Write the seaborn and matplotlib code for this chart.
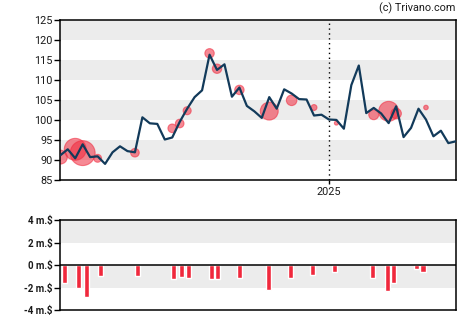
import matplotlib
matplotlib.use("Agg")
import matplotlib.pyplot as plt
import seaborn as sns
import pandas as pd
import numpy as np

# ---- data ----
price = [91.25, 92.75, 90.5, 94.0, 90.8, 91.0, 89.1, 92.0, 93.5, 92.3, 92.0, 100.75,
         99.25, 99.1, 95.2, 95.7, 99.6, 102.9, 105.8, 107.5, 116.4, 112.6, 114.0, 105.9,
         108.2, 103.6, 102.25, 100.6, 105.8, 102.9, 107.75, 106.7, 105.3, 105.2, 101.2, 101.4,
         100.2, 100.1, 97.9, 108.8, 113.7, 101.8, 103.1, 101.7, 99.3, 103.5, 95.8, 98.1,
         102.9, 100.2, 96.0, 97.4, 94.3, 94.75]
week = list(range(len(price)))

bubble_week = [0, 2, 3, 5, 10, 15, 16, 17, 20, 21, 24, 28, 31, 34, 37, 42, 44, 45, 49]
bubble_price = [90.8, 92.75, 91.8, 90.5, 91.9, 98.0, 99.2, 102.4, 116.75, 112.9, 107.6,
                102.3, 105.0, 103.2, 99.3, 101.4, 102.25, 101.7, 103.2]
bubble_value = [0.84, 2.07, 2.68, 0.27, 0.32, 0.32, 0.32, 0.28, 0.38, 0.38, 0.38,
                1.39, 0.48, 0.15, 0.07, 0.43, 1.71, 0.48, 0.09]

bar_week = [0.56, 2.44, 3.5, 5.37, 10.3, 15.2, 16.3, 17.2, 20.2, 21.1, 24.05, 27.9,
            30.9, 33.85, 36.8, 41.8, 43.8, 44.7, 47.7, 48.6]
bar_value = [-1.55, -1.99, -2.79, -0.92, -0.92, -1.19, -1.01, -1.10, -1.19, -1.19, -1.10,
             -2.16, -1.10, -0.83, -0.56, -1.10, -2.25, -1.55, -0.30, -0.56]

year_tick_week = 36
year_tick_label = "2025"
price_ticks = [85, 90, 95, 100, 105, 110, 115, 120, 125]
flow_ticks = [-4, -2, 0, 2, 4]
flow_tick_labels = ["-4 m.$", "-2 m.$", "0 m.$", "2 m.$", "4 m.$"]

# ---- style ----
sns.set_theme(style="white")
plt.rcParams["font.family"] = ["Roboto", "DejaVu Sans"]

LINE = "#123a5a"
RED = "#f0283c"
BAND = "#ececec"
TXT = "#1a1a1a"

fig = plt.figure(figsize=(4.7, 3.25), dpi=100)
ax = fig.add_axes([0.1283, 0.4452, 0.8415, 0.4923])
ax2 = fig.add_axes([0.1283, 0.0452, 0.8415, 0.2770])

# top chart bands
for lo in [90, 100, 110, 120]:
    ax.axhspan(lo, lo + 5, color=BAND, lw=0, zorder=0)
ax.axvline(year_tick_week, color="black", ls=(0, (1, 2.5)), lw=1, zorder=1)

df = pd.DataFrame({"week": week, "price": price})
sns.lineplot(data=df, x="week", y="price", ax=ax, color=LINE, lw=1.6, zorder=3)

bdf = pd.DataFrame({"week": bubble_week, "price": bubble_price, "value": bubble_value})
ax.scatter(bdf["week"], bdf["price"], s=np.array(bdf["value"]) * 120,
           color=RED, alpha=0.55, edgecolor=RED, linewidth=0.8, zorder=2)

ax.set_xlim(0, len(price) - 1)
ax.set_ylim(85, 125)
ax.set_yticks(price_ticks)
ax.set_yticklabels([str(t) for t in price_ticks])
ax.set_xticks([year_tick_week])
ax.set_xticklabels([year_tick_label])
ax.set_xlabel("")
ax.set_ylabel("")
for s in ax.spines.values():
    s.set_color("black")
    s.set_linewidth(1.1)
    s.set_visible(True)
ax.tick_params(axis="y", length=4, width=1, color="black", labelsize=7.8,
               labelcolor=TXT, pad=1.5, left=True)
ax.tick_params(axis="x", length=3, width=1, color="black", labelsize=7.8,
               labelcolor=TXT, pad=2, bottom=True)

# bottom chart
ax2.axhspan(2, 4, color=BAND, lw=0, zorder=0)
ax2.axhspan(-2, 0, color=BAND, lw=0, zorder=0)
ax2.bar(bar_week, bar_value, width=0.68, color=RED, zorder=2)
ax2.axhline(0, color="black", lw=1.1, zorder=3)
ax2.set_xlim(0, len(price) - 1)
ax2.set_ylim(-4, 4)
ax2.set_yticks(flow_ticks)
ax2.set_yticklabels(flow_tick_labels)
ax2.set_xticks([])
for s in ax2.spines.values():
    s.set_color("black")
    s.set_linewidth(1.1)
    s.set_visible(True)
ax2.tick_params(axis="y", length=4, width=1, color="black", labelsize=7,
                labelcolor=TXT, pad=1.5, left=True)
for lbl in ax2.get_yticklabels():
    lbl.set_fontweight("bold")

fig.text(0.968, 0.974, "(c) Trivano.com", ha="right", va="center",
         fontsize=7.8, color=TXT)

fig.savefig("out.png", dpi=100)
